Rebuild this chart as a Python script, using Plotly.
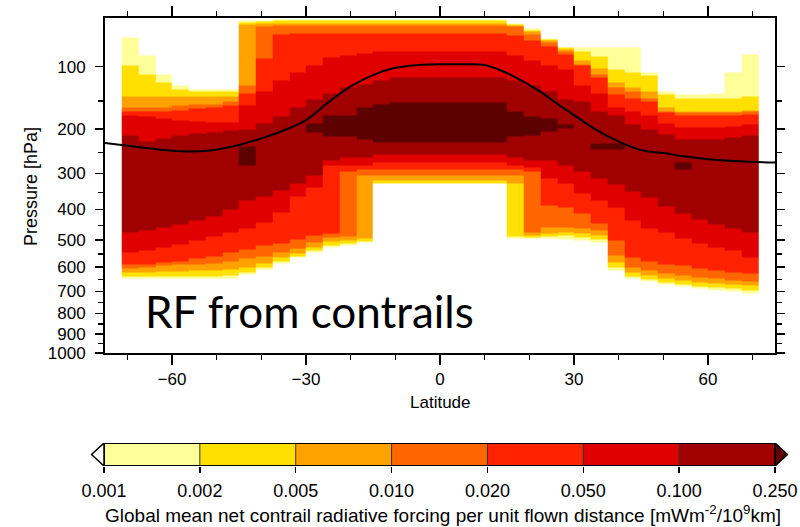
import plotly.graph_objects as go

# ---------------- data ----------------
levels = [0.001, 0.002, 0.005, 0.010, 0.020, 0.050, 0.100, 0.250]
level_labels = ["0.001", "0.002", "0.005", "0.010", "0.020", "0.050", "0.100", "0.250"]
band_colors = ["#FFFF99", "#FFE000", "#FFA200", "#FF6600", "#FF2200",
               "#E00000", "#A00000", "#5C0000"]

# model grid-box latitude centres (3.75 deg)
lat_centers = [-69.375, -65.625, -61.875, -58.125, -54.375, -50.625, -46.875, -43.125,
               -39.375, -35.625, -31.875, -28.125, -24.375, -20.625, -16.875, -13.125,
               -9.375, -5.625, -1.875, 1.875, 5.625, 9.375, 13.125, 16.875,
               20.625, 24.375, 28.125, 31.875, 35.625, 39.375, 43.125, 46.875,
               50.625, 54.375, 58.125, 61.875, 65.625, 69.375]

# upper / lower pressure limit (hPa) of the region exceeding each level, per latitude column
top_1 = [67, 87, 110, 126, 131, 131, 132, 52, 52, 51, 51, 51, 51, 51, 51, 51, 51, 51, 51,
         51, 51, 51, 51, 54, 59, 68, 77, 78, 78, 78, 78, 107, 135, 140, 140, 137, 108, 85]
top_2 = [99, 110, 122, 132, 135, 135, 135, 53, 52.5, 52, 52, 52, 52, 52, 52, 52, 52, 52, 52,
         52, 52, 52, 52, 55, 60, 69, 78, 82, 88, 104, 107, 111, 140, 145, 145, 145, 145, 142]
top_3 = [142, 142, 142, 142, 142, 142, 142, 55, 54, 54, 54, 54, 54, 54, 54, 54, 54, 54, 54,
         54, 54, 54, 54, 56, 61, 70, 80, 92, 102, 121, 128, 135, 161, 167, 167, 167, 167, 165]
top_4 = [161, 161, 160, 158, 156, 155, 151, 126, 57, 56, 56, 56, 56, 56, 56, 56, 56, 56, 56,
         56, 56, 56, 56, 57, 64, 72, 82, 97, 110, 129, 135, 145, 167, 170, 170, 170, 170, 168]
top_5 = [168, 168, 167, 165, 163, 161, 158, 138, 90, 64, 63, 63, 63, 63, 63, 63, 63, 63, 63,
         63, 63, 63, 63, 65, 70, 76, 85, 99, 115, 140, 145, 151, 170, 174, 174, 174, 174, 172]
top_6 = [174, 177, 181, 183, 185, 187, 187, 158, 135, 118, 107, 98, 89, 86, 84, 82, 82, 82, 82,
         82, 82, 82, 82, 86, 92, 99, 104, 125, 137, 161, 168, 174, 190, 198, 198, 198, 196, 192]
top_7 = [214, 225, 220, 214, 210, 208, 204, 202, 189, 176, 161, 148, 137, 129, 124, 118, 115, 114, 114,
         114, 114, 114, 114, 118, 125, 135, 148, 151, 168, 174, 192, 202, 212, 222, 222, 222, 218, 214]
top_8 = [None, None, None, None, None, None, None, 237, None, None, None, 190, 174, 174, 161, 155, 153, 153, 153,
         153, 153, 153, 153, 168, 177, 181, 192, None, 229, 229, None, None, None, 274, None, None, None, None]

bot_8 = [None, None, None, None, None, None, None, 279, None, None, None, 208, 216, 216, 222, 227, 227, 227, 227,
         227, 227, 227, 227, 216, 214, 206, 200, None, 244, 244, None, None, None, 291, None, None, None, None]
bot_7 = [473, 466, 456, 449, 436, 421, 399, 372, 361, 344, 325, 304, 267, 262, 260, 255, 255, 255, 255,
         255, 255, 255, 255, 262, 267, 267, 279, 296, 312, 330, 349, 366, 390, 411, 430, 446, 459, 473]
bot_6 = [543, 536, 525, 514, 500, 486, 473, 459, 440, 408, 363, 338, 281, 279, 279, 274, 274, 274, 274,
         274, 274, 274, 274, 279, 286, 312, 325, 352, 372, 393, 433, 459, 473, 493, 511, 525, 536, 565]
bot_5 = [592, 589, 581, 577, 569, 558, 543, 532, 521, 511, 497, 483, 476, 296, 291, 291, 291, 291, 291,
         291, 291, 291, 291, 291, 296, 387, 393, 411, 443, 500, 562, 577, 589, 596, 604, 612, 620, 624]
bot_4 = [604, 600, 596, 592, 589, 585, 577, 569, 558, 543, 529, 507, 490, 486, 306, 306, 306, 306, 306,
         306, 306, 306, 306, 306, 473, 456, 456, 459, 466, 554, 600, 612, 624, 632, 640, 645, 653, 657]
bot_3 = [620, 620, 616, 616, 612, 612, 608, 600, 585, 565, 547, 525, 504, 500, 493, 317, 317, 317, 317,
         317, 317, 317, 317, 325, 483, 476, 473, 476, 483, 581, 620, 632, 645, 653, 661, 665, 669, 674]
bot_2 = [636, 636, 636, 636, 636, 636, 632, 620, 600, 577, 558, 536, 518, 511, 504, 325, 325, 325, 325,
         325, 325, 325, 325, 486, 490, 486, 483, 490, 497, 600, 636, 649, 661, 669, 678, 682, 686, 695]
bot_1 = [645, 645, 645, 645, 645, 645, 645, 628, 608, 585, 565, 543, 525, 518, 507, 327, 327, 327, 327,
         327, 327, 327, 327, 493, 493, 493, 497, 500, 507, 612, 645, 657, 669, 678, 686, 695, 699, 708]

# thermal tropopause (black line)
trop_lat = [-75, -69, -63, -58, -52, -45, -40, -35, -30, -25, -20, -15, -10, -5, 0,
            5, 10, 15, 20, 22.5, 26, 30, 35, 40, 45, 50, 55, 60, 67, 75]
trop_p = [229, 236, 243, 247, 246, 233, 219, 203, 183, 152, 127, 111, 101.5, 98, 97,
          97, 98, 108.5, 125, 135, 153, 174, 202, 226, 244, 251, 259, 265, 270, 273]

p_ticks = [100, 200, 300, 400, 500, 600, 700, 800, 900, 1000]
p_minor = [150, 250, 350, 450, 550, 650, 750, 850, 950]
lat_ticks = [-60, -30, 0, 30, 60]
lat_minor = [-70, -50, -40, -20, -10, 10, 20, 40, 50, 70]

# ---------------- helpers ----------------
def Y(p):
    """vertical coordinate used by the original figure (pressure ** 0.37)"""
    return p ** 0.37

tops = [top_1, top_2, top_3, top_4, top_5, top_6, top_7, top_8]
bots = [bot_1, bot_2, bot_3, bot_4, bot_5, bot_6, bot_7, bot_8]

edges = {50.0, 1000.0}
for arr in tops + bots:
    for v in arr:
        if v is not None:
            edges.add(float(v))
edges = sorted(edges)

z = []
for a, b in zip(edges[:-1], edges[1:]):
    mid = 0.5 * (a + b)
    row = []
    for k in range(len(lat_centers)):
        code = 0
        for L in range(8):
            t, bt = tops[L][k], bots[L][k]
            if t is not None and t <= mid <= bt:
                code = L + 1
        row.append(code if code > 0 else None)
    z.append(row)

nb = len(band_colors)
cscale = []
for i, c in enumerate(band_colors):
    cscale.append([i / nb, c])
    cscale.append([(i + 1) / nb, c])

FONT = "Liberation Sans, Arial, sans-serif"
W, H = 800, 527
px_x = lambda x: x / W
px_y = lambda y: (H - y) / H

fig = go.Figure()

fig.add_trace(go.Heatmap(
    x=lat_centers, y=[Y(e) for e in edges], z=z,
    colorscale=cscale, zmin=0.5, zmax=nb + 0.5, showscale=False,
    hoverinfo="skip", xaxis="x", yaxis="y"))

fig.add_trace(go.Scatter(
    x=trop_lat, y=[Y(p) for p in trop_p], mode="lines",
    line=dict(color="black", width=2, shape="spline"),
    showlegend=False, hoverinfo="skip", xaxis="x", yaxis="y"))

# ---------------- colour bar (drawn as a second subplot) ----------------
nbar = len(levels) - 1
fig.add_trace(go.Heatmap(
    x=list(range(nbar + 1)), y=[0, 1], z=[list(range(1, nbar + 1))],
    colorscale=cscale, zmin=0.5, zmax=nb + 0.5, showscale=False,
    hoverinfo="skip", xaxis="x2", yaxis="y2"))
sep_x, sep_y = [], []
for i in range(1, nbar):
    sep_x += [i, i, None]
    sep_y += [0, 1, None]
fig.add_trace(go.Scatter(x=sep_x, y=sep_y, mode="lines",
                         line=dict(color="#333333", width=1),
                         showlegend=False, hoverinfo="skip", xaxis="x2", yaxis="y2"))
fig.add_trace(go.Scatter(x=[0, nbar, nbar, 0, 0], y=[0, 0, 1, 1, 0], mode="lines",
                         line=dict(color="black", width=2),
                         showlegend=False, hoverinfo="skip", xaxis="x2", yaxis="y2"))
tri = 0.13
fig.add_trace(go.Scatter(x=[0, -tri, 0, 0], y=[0, 0.5, 1, 0], mode="lines", fill="toself",
                         fillcolor="white", line=dict(color="black", width=1.5),
                         showlegend=False, hoverinfo="skip", xaxis="x2", yaxis="y2"))
fig.add_trace(go.Scatter(x=[nbar, nbar + tri, nbar, nbar], y=[0, 0.5, 1, 0], mode="lines",
                         fill="toself", fillcolor=band_colors[-1],
                         line=dict(color="black", width=1.5),
                         showlegend=False, hoverinfo="skip", xaxis="x2", yaxis="y2"))

bar_l, bar_r = 104, 775
bar_t, bar_b = 443, 466
unit = (bar_r - bar_l) / nbar
ext = tri * unit + 1

axis_common = dict(showgrid=False, zeroline=False, showline=True, linecolor="black",
                   linewidth=2, mirror="allticks", ticks="outside", tickcolor="black",
                   tickwidth=1.5, automargin=False,
                   tickfont=dict(family=FONT, size=17, color="black"))

fig.update_layout(
    template="none",
    width=W, height=H, margin=dict(l=0, r=0, t=0, b=0, pad=0),
    font=dict(family=FONT, color="black"),
    plot_bgcolor="white", paper_bgcolor="white", showlegend=False,
    xaxis=dict(domain=[px_x(105), px_x(775)], range=[-75, 75],
               tickmode="array", tickvals=lat_ticks, ticklen=10,
               minor=dict(tickmode="array", tickvals=lat_minor, ticklen=5,
                          ticks="outside", tickcolor="black", tickwidth=1.5),
               anchor="y", **axis_common),
    yaxis=dict(domain=[px_y(353), px_y(18)], range=[Y(1000), Y(49.6)],
               tickmode="array", tickvals=[Y(p) for p in p_ticks],
               ticktext=[str(p) for p in p_ticks], ticklen=8, ticklabelstandoff=6,
               minor=dict(tickmode="array", tickvals=[Y(p) for p in p_minor], ticklen=5,
                          ticks="outside", tickcolor="black", tickwidth=1.5),
               anchor="x", **axis_common),
    xaxis2=dict(domain=[px_x(bar_l - ext), px_x(bar_r + ext)],
                range=[-(ext / unit), nbar + ext / unit],
                tickmode="array", tickvals=list(range(nbar + 1)), ticktext=level_labels,
                ticks="outside", ticklen=6, tickwidth=1.5, tickcolor="black",
                ticklabelstandoff=2,
                tickfont=dict(family=FONT, size=18, color="black"), automargin=False,
                showline=False, showgrid=False, zeroline=False, anchor="y2"),
    yaxis2=dict(domain=[px_y(bar_b), px_y(bar_t)], range=[0, 1], visible=False,
                automargin=False, anchor="x2"),
)

def label(text, x, y, size, angle=0, family=FONT, xanchor="center"):
    fig.add_annotation(text=text, x=px_x(x), y=px_y(y), xref="paper", yref="paper",
                       xanchor=xanchor, yanchor="middle", showarrow=False,
                       textangle=angle, font=dict(family=family, size=size, color="black"))

label("Latitude", 440, 402, 17)
label("Pressure [hPa]", 31, 187, 18, angle=-90)
label("RF from contrails", 143, 311, 44, family="Lato, Open Sans, sans-serif", xanchor="left")
label("Global mean net contrail radiative forcing per unit flown distance "
      "[mWm<sup>-2</sup>/10<sup>9</sup>km]", 443, 514, 19)

fig.write_html("out.html",
               config={"displayModeBar": False, "staticPlot": True},
               post_script="document.body.style.margin='0px';"
                           "document.body.style.overflow='hidden';")
